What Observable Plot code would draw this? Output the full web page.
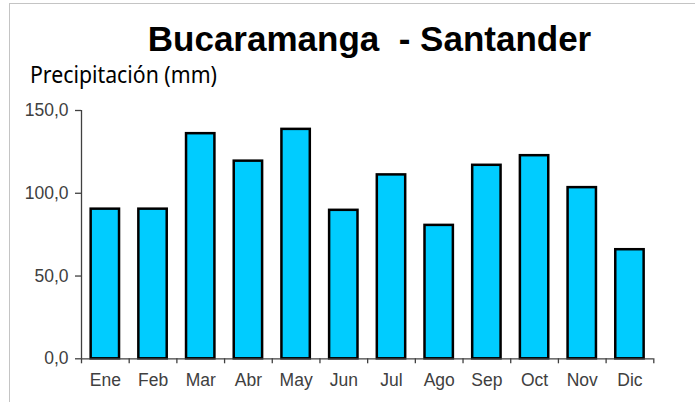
<!DOCTYPE html>
<html>
<head>
<meta charset="utf-8">
<script src="https://cdn.jsdelivr.net/npm/d3@7"></script>
<script src="https://cdn.jsdelivr.net/npm/@observablehq/plot@0.6"></script>
<style>
  html, body { margin: 0; padding: 0; background: #fff; }
  #wrap { position: relative; width: 695px; height: 402px; overflow: hidden; }
  #frame { position: absolute; left: 9px; top: 3px; width: 720px; height: 440px; border: 1px solid #c4c4c4; box-sizing: border-box; }
  #title { position: absolute; left: 369.5px; top: 20.5px; transform: translateX(-50%); white-space: pre;
           font-family: "Liberation Sans", Arial, sans-serif; font-weight: bold; font-size: 35px; line-height: 35px; color: #000; }
  #subtitle { position: absolute; left: 30px; top: 63px; white-space: pre; transform: scaleX(0.925); transform-origin: left top;
              font-family: "Noto Sans", "Open Sans", sans-serif; font-size: 23px; line-height: 23px; color: #000; }
  #chart { position: absolute; left: 0; top: 0; }
</style>
</head>
<body>
<div id="wrap">
  <div id="frame"></div>
  <div id="chart"></div>
  <div id="title">Bucaramanga  - Santander</div>
  <div id="subtitle">Precipitación (mm)</div>
</div>
<script>
const months = ["Ene", "Feb", "Mar", "Abr", "May", "Jun", "Jul", "Ago", "Sep", "Oct", "Nov", "Dic"];
const precipitation = [90.4, 90.4, 136.0, 119.4, 138.6, 89.7, 111.1, 80.6, 116.9, 122.7, 103.4, 65.9];
const yTicks = [0, 50, 100, 150];

const data = months.map((m, i) => ({month: m, value: precipitation[i]}));

const W = 695, H = 402;
const mL = 81, mR = 41.7, mT = 110, mB = 43.7;
const step = (W - mL - mR) / months.length;
const axisColor = "#404040";
const fmt = d => d3.format(".1f")(d).replace(".", ",");

const chart = Plot.plot({
  width: W,
  height: H,
  marginLeft: mL,
  marginRight: mR,
  marginTop: mT,
  marginBottom: mB,
  style: {background: "transparent", fontFamily: "'Liberation Sans', Arial, sans-serif", color: axisColor},
  x: {domain: months, paddingInner: 0.405, paddingOuter: 0.2025, round: false, label: null, axis: null},
  y: {domain: [0, 150], label: null, axis: null},
  marks: [
    Plot.barY(data, {x: "month", y: "value", fill: "#00CCFF", stroke: "#000", strokeWidth: 2.5}),
    // y axis line
    Plot.ruleX([months[0]], {x: d => d, dx: -step / 2, y1: 0, y2: 150, stroke: axisColor, strokeWidth: 1.3}),
    // x axis line
    Plot.ruleY([0], {stroke: axisColor, strokeWidth: 1.3}),
    // category boundary ticks
    Plot.axisX(months, {tickSize: 5, dx: -step / 2, tickFormat: () => "", stroke: axisColor, strokeWidth: 1.3, label: null}),
    Plot.axisX([months[months.length - 1]], {tickSize: 5, dx: step / 2, tickFormat: () => "", stroke: axisColor, strokeWidth: 1.3, label: null}),
    // category labels
    Plot.axisX(months, {tickSize: 0, tickPadding: 15, fontSize: 17.5, fill: axisColor, label: null}),
    // y axis ticks & labels
    Plot.axisY(yTicks, {tickSize: 6, tickPadding: 7, tickFormat: fmt, fontSize: 17.5, fill: axisColor, stroke: axisColor, strokeWidth: 1.3, label: null})
  ]
});
document.getElementById("chart").appendChild(chart);
</script>
</body>
</html>
